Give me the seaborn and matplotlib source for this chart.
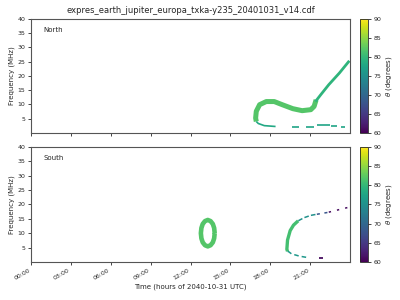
import numpy as np
import pandas as pd
import matplotlib
matplotlib.use("Agg")
import matplotlib.pyplot as plt
import seaborn as sns
from matplotlib.colors import Normalize
from matplotlib.cm import ScalarMappable
from matplotlib.ticker import FuncFormatter

sns.set_theme(style="ticks")
plt.rcParams['font.family'] = ['DejaVu Sans']

TITLE = "expres_earth_jupiter_europa_txka-y235_20401031_v14.cdf"
XTICKS = [0, 3, 6, 9, 12, 15, 18, 21]
YTICKS = [5, 10, 15, 20, 25, 30, 35, 40]
CBTICKS = [60, 65, 70, 75, 80, 85, 90]

# ---- North hemisphere emission (time in hours, frequency in MHz, theta in deg)
north_band_t = [21.45, 21.3, 21.05, 20.4, 19.7, 18.9, 18.3, 17.7, 17.2, 16.95, 16.9, 16.95]
north_band_f = [11.6, 9.3, 8.15, 7.8, 8.5, 9.9, 11.0, 11.0, 9.9, 7.6, 5.2, 4.0]
north_band_theta = 82

north_rise_t = [21.4, 21.8, 22.4, 23.2, 23.95]
north_rise_f = [11.0, 13.4, 16.9, 21.0, 25.3]
north_rise_theta = 79.5

north_hook_t = [16.95, 17.1, 17.55, 18.4]
north_hook_f = [4.0, 3.3, 2.55, 2.25]
north_hook_theta = 78

north_dash_t0 = [19.6, 20.7, 21.5, 22.6, 23.3]
north_dash_t1 = [20.2, 21.3, 22.5, 23.0, 23.6]
north_dash_f = [2.2, 2.2, 2.6, 2.3, 2.2]
north_dash_theta = 77.5

# ---- South hemisphere emission
south_ring_t = [13.82, 13.78, 13.68, 13.51, 13.3, 13.09, 12.92, 12.82, 12.78,
                12.82, 12.92, 13.09, 13.3, 13.51, 13.68, 13.78, 13.82]
south_ring_f = [10.0, 11.8, 13.2, 14.2, 14.6, 14.2, 13.2, 11.8, 10.0,
                8.2, 6.8, 5.8, 5.4, 5.8, 6.8, 8.2, 10.0]
south_ring_theta = 82

south_far_t = [23.8, 22.3]
south_far_f = [18.9, 17.2]
south_far_theta = 61

south_mid_t = [22.3, 21.4]
south_mid_f = [17.2, 16.5]
south_mid_theta = 68

south_near_t = [21.4, 21.05, 20.55, 20.1]
south_near_f = [16.5, 16.2, 15.4, 14.3]
south_near_theta = 75

south_band_t = [20.1, 19.75, 19.5, 19.3, 19.25, 19.3]
south_band_f = [14.3, 12.8, 10.9, 7.6, 4.4, 3.7]
south_band_theta = 81

south_hook_t = [19.3, 19.4, 19.6, 20.2, 20.7]
south_hook_f = [3.7, 3.5, 2.8, 2.0, 1.6]
south_hook_theta = 76

south_low_t = [21.7, 22.0]
south_low_f = [1.3, 1.3]
south_low_theta = 61

cmap = plt.get_cmap("viridis")
norm = Normalize(60, 90)


def seg(ax, t, f, theta, lw, ls="-"):
    df = pd.DataFrame({"t": t, "f": f})
    sns.lineplot(data=df, x="t", y="f", sort=False, estimator=None,
                 color=cmap(norm(theta)), lw=lw, ls=ls, ax=ax,
                 solid_capstyle="butt", dash_capstyle="butt")


fig = plt.figure(figsize=(4, 3), dpi=100)
ax1 = fig.add_axes([0.0775, 0.557, 0.7975, 0.38])
ax2 = fig.add_axes([0.0775, 0.127, 0.7975, 0.383])
cax1 = fig.add_axes([0.9, 0.557, 0.019, 0.38])
cax2 = fig.add_axes([0.9, 0.127, 0.019, 0.383])

# North
seg(ax1, north_band_t, north_band_f, north_band_theta, 3.6)
seg(ax1, north_rise_t, north_rise_f, north_rise_theta, 2.0)
seg(ax1, north_hook_t, north_hook_f, north_hook_theta, 1.2)
for a, b, f in zip(north_dash_t0, north_dash_t1, north_dash_f):
    seg(ax1, [a, b], [f, f], north_dash_theta, 1.2)

# South
seg(ax2, south_ring_t, south_ring_f, south_ring_theta, 3.3)
seg(ax2, south_far_t, south_far_f, south_far_theta, 1.1, ls=(0, (1.5, 4)))
seg(ax2, south_mid_t, south_mid_f, south_mid_theta, 1.1, ls=(0, (2, 3)))
seg(ax2, south_near_t, south_near_f, south_near_theta, 1.1, ls=(0, (3, 1.5)))
seg(ax2, south_band_t, south_band_f, south_band_theta, 2.4)
seg(ax2, south_hook_t, south_hook_f, south_hook_theta, 1.1, ls=(0, (3, 2)))
seg(ax2, south_low_t, south_low_f, south_low_theta, 1.3)

fmt = FuncFormatter(lambda v, p: f"{int(v):02d}:00")
for ax, name in [(ax1, "North"), (ax2, "South")]:
    ax.set_xlim(0, 24)
    ax.set_ylim(0, 40)
    ax.set_xticks(XTICKS)
    ax.set_yticks(YTICKS)
    ax.xaxis.set_major_formatter(fmt)
    ax.set_ylabel("Frequency (MHz)", fontsize=5, labelpad=2)
    ax.set_xlabel("")
    ax.tick_params(labelsize=4.5, length=2.5, width=0.6, pad=1.5)
    for s in ax.spines.values():
        s.set_linewidth(0.8)
        s.set_color("#555555")
    ax.text(0.04, 0.9, name, transform=ax.transAxes, fontsize=5, color=".15",
            va="center")

ax1.tick_params(labelbottom=False)
for lab in ax2.get_xticklabels():
    lab.set_rotation(30)
    lab.set_ha("right")
ax2.set_xlabel("Time (hours of 2040-10-31 UTC)", fontsize=5, labelpad=2)
ax1.set_title(TITLE, fontsize=6, pad=4)

for cax in (cax1, cax2):
    cb = fig.colorbar(ScalarMappable(norm=norm, cmap=cmap), cax=cax)
    cb.set_ticks(CBTICKS)
    cb.ax.tick_params(labelsize=4.5, length=2.5, width=0.6, pad=1.5)
    cb.set_label(r"$\theta$ (degrees)", fontsize=5, labelpad=2)
    cb.outline.set_linewidth(0.6)

fig.savefig("out.png", dpi=100)
